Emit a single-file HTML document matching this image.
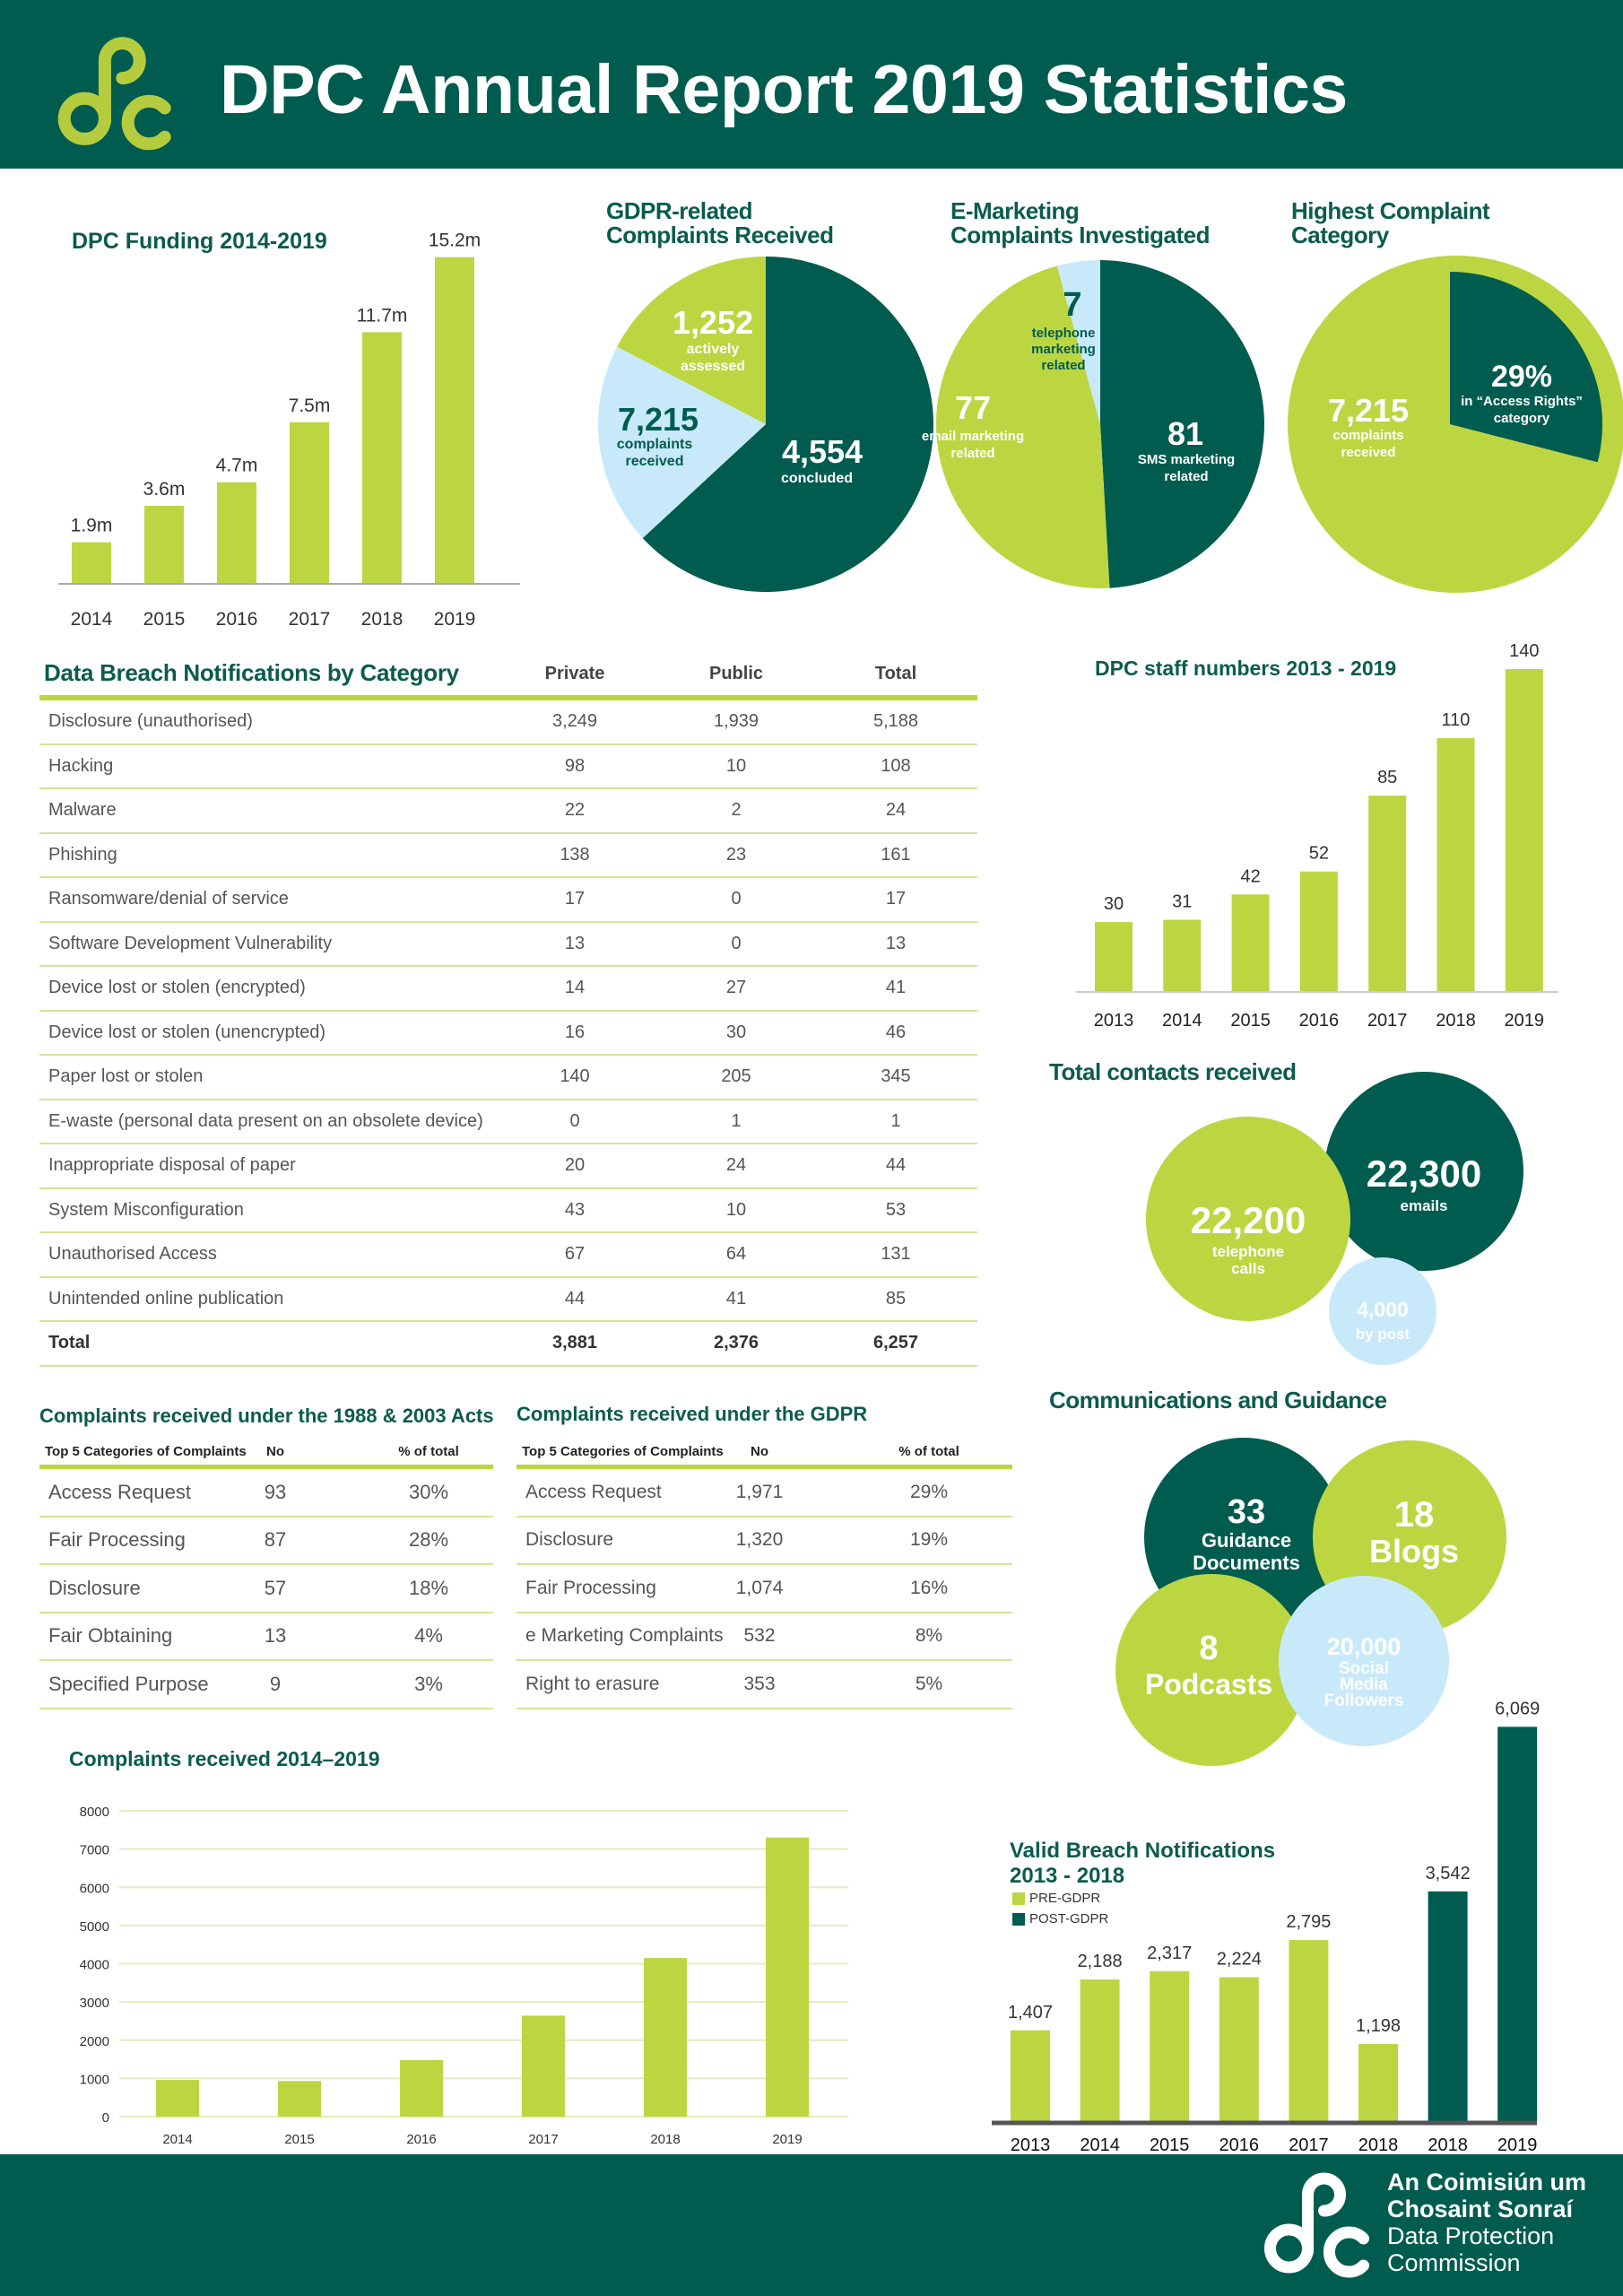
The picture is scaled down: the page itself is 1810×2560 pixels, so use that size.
<!DOCTYPE html>
<html><head><meta charset="utf-8">
<style>
*{margin:0;padding:0;box-sizing:border-box}
body{width:1810px;height:2560px;position:relative;background:#fff;font-family:"Liberation Sans",sans-serif;overflow:hidden;color:#444}
.abs{position:absolute}
.hdr{left:0;top:0;width:1810px;height:188px;background:#005c4f}
.ftr{left:0;top:2402px;width:1810px;height:158px;background:#005c4f}
.title{font-weight:bold;color:#0b5c4c;font-family:"Liberation Sans Narrow","Liberation Sans",sans-serif;white-space:nowrap}
.tbl .row{position:absolute;left:0;width:100%;border-bottom:2px solid #d4e49a}
.tbl .c{position:absolute;top:0;height:100%;display:flex;align-items:center;white-space:nowrap}
.br .row{height:49.5px;font-size:20px;color:#555}
.cp .row{height:53.5px;font-size:23px;color:#555;font-family:"Liberation Sans Narrow","Liberation Sans",sans-serif}
.ctr{justify-content:center;transform:translateX(-50%)}
</style></head><body>
<div class="abs hdr"></div>
<svg class="abs" style="left:52px;top:30px" width="160" height="140" viewBox="0 0 130 130">
<g fill="none" stroke="#b5cc3f" stroke-width="13" stroke-linecap="round">
<circle cx="30" cy="95" r="21"/><path d="M51,98 L51,35 A18,18 0 1 1 69,53"/><path d="M113,84 A22,22 0 1 0 113,114"/></g></svg>
<div class="abs" style="left:245px;top:56px;font-size:77px;font-weight:bold;color:#fff;white-space:nowrap;letter-spacing:-0.3px">DPC Annual Report 2019 Statistics</div>

<div class="abs title" style="left:80px;top:255px;font-size:25px">DPC Funding 2014-2019</div>
<div class="abs title" style="left:676px;top:222px;font-size:26px;line-height:27px;letter-spacing:-0.5px">GDPR-related<br>Complaints Received</div>
<div class="abs title" style="left:1060px;top:222px;font-size:26px;line-height:27px;letter-spacing:-0.5px">E-Marketing<br>Complaints Investigated</div>
<div class="abs title" style="left:1440px;top:222px;font-size:26px;line-height:27px;letter-spacing:-0.5px">Highest Complaint<br>Category</div>

<div class="abs title" style="left:49px;top:735px;font-size:26px;letter-spacing:-0.3px">Data Breach Notifications by Category</div>
<div class="abs" style="left:641px;top:740px;font-size:20px;font-weight:bold;color:#444;transform:translateX(-50%)">Private</div>
<div class="abs" style="left:821px;top:740px;font-size:20px;font-weight:bold;color:#444;transform:translateX(-50%)">Public</div>
<div class="abs" style="left:999px;top:740px;font-size:20px;font-weight:bold;color:#444;transform:translateX(-50%)">Total</div>
<div class="abs" style="left:44px;top:775px;width:1046px;height:6px;background:#bcd642"></div>
<div class="abs tbl br" id="brtbl" style="left:44px;top:781px;width:1046px;height:745px"></div>

<div class="abs title" style="left:1221px;top:732px;font-size:23px;font-family:'Liberation Sans',sans-serif">DPC staff numbers 2013 - 2019</div>
<div class="abs title" style="left:1170px;top:1180px;font-size:26px;font-family:'Liberation Sans',sans-serif;letter-spacing:-0.5px">Total contacts received</div>
<div class="abs title" style="left:1170px;top:1546px;font-size:26px;font-family:'Liberation Sans',sans-serif;letter-spacing:-0.5px">Communications and Guidance</div>

<div class="abs title" style="left:44px;top:1566px;font-size:22px">Complaints received under the 1988 &amp; 2003 Acts</div>
<div class="abs title" style="left:576px;top:1564px;font-size:22px">Complaints received under the GDPR</div>
<div class="abs tbl cp" id="cpl" style="left:44px;top:1600px;width:506px;height:310px"></div>
<div class="abs tbl cp" id="cpr" style="left:576px;top:1600px;width:553px;height:310px"></div>

<div class="abs title" style="left:77px;top:1948px;font-size:23px;font-family:'Liberation Sans',sans-serif">Complaints received 2014–2019</div>
<div class="abs title" style="left:1126px;top:2050px;font-size:24px;line-height:28px;font-family:'Liberation Sans',sans-serif">Valid Breach Notifications<br>2013 - 2018</div>
<div class="abs" style="left:1129px;top:2110px;width:14px;height:14px;background:#bcd642"></div>
<div class="abs" style="left:1148px;top:2108px;font-size:15px;color:#333">PRE-GDPR</div>
<div class="abs" style="left:1129px;top:2133px;width:14px;height:14px;background:#005c4f"></div>
<div class="abs" style="left:1148px;top:2131px;font-size:15px;color:#333">POST-GDPR</div>

<div class="abs ftr"></div>
<svg class="abs" style="left:1405px;top:2412px" width="135" height="130" viewBox="0 0 130 130">
<g fill="none" stroke="#fff" stroke-width="13" stroke-linecap="round">
<circle cx="30" cy="95" r="21"/><path d="M51,98 L51,35 A18,18 0 1 1 69,53"/><path d="M113,84 A22,22 0 1 0 113,114"/></g></svg>
<div class="abs" style="left:1547px;top:2418px;font-size:27px;line-height:30px;color:#fff;white-space:nowrap"><b>An Coimisiún um<br>Chosaint Sonraí</b><br>Data Protection<br>Commission</div>

<svg id="chart" class="abs" style="left:0;top:0" width="1810" height="2560"></svg>

<script>
const fundYears=['2014','2015','2016','2017','2018','2019'];
const fundVals=[1.9,3.6,4.7,7.5,11.7,15.2];
const fundLabels=['1.9m','3.6m','4.7m','7.5m','11.7m','15.2m'];
const staffYears=['2013','2014','2015','2016','2017','2018','2019'];
const staffVals=[30,31,42,52,85,110,140];
const complYears=['2014','2015','2016','2017','2018','2019'];
const complVals=[960,932,1479,2642,4150,7300];
const complTicks=[0,1000,2000,3000,4000,5000,6000,7000,8000];
const breachYears=['2013','2014','2015','2016','2017','2018','2018','2019'];
const breachVals=[1407,2188,2317,2224,2795,1198,3542,6069];
const breachPost=[false,false,false,false,false,false,true,true];
const gdprTotal=7215;
const gdprConcluded=4554;
const gdprAssessed=1252;
const emktVals=[81,77,7];
const highestPct=29;
const breachCats=['Disclosure (unauthorised)','Hacking','Malware','Phishing','Ransomware/denial of service','Software Development Vulnerability','Device lost or stolen (encrypted)','Device lost or stolen (unencrypted)','Paper lost or stolen','E-waste (personal data present on an obsolete device)','Inappropriate disposal of paper','System Misconfiguration','Unauthorised Access','Unintended online publication'];
const breachPrivate=[3249,98,22,138,17,13,14,16,140,0,20,43,67,44];
const breachPublic=[1939,10,2,23,0,0,27,30,205,1,24,10,64,41];
const actsCats=['Access Request','Fair Processing','Disclosure','Fair Obtaining','Specified Purpose'];
const actsNo=['93','87','57','13','9'];
const actsPct=['30%','28%','18%','4%','3%'];
const gdprCats=['Access Request','Disclosure','Fair Processing','e Marketing Complaints','Right to erasure'];
const gdprNo=['1,971','1,320','1,074','532','353'];
const gdprPct=['29%','19%','16%','8%','5%'];

const NS='http://www.w3.org/2000/svg';
const svg=document.getElementById('chart');
const LIME='#bcd642',DARK='#005c4f',BLUE='#c8e9f9';
function mk(tag,a){const e=document.createElementNS(NS,tag);for(const k in a)e.setAttribute(k,a[k]);svg.appendChild(e);return e;}
function txt(x,y,s,size,fill,weight,anchor){const t=mk('text',{x:x,y:y,'font-size':size,fill:fill,'font-weight':weight||'normal','text-anchor':anchor||'middle','font-family':'Liberation Sans, sans-serif'});t.textContent=s;return t;}
const fmt=n=>n.toLocaleString('en-US');

// Funding chart
const fX=i=>80+i*81, fY=v=>650-v*23.9;
let ax=mk('line',{x1:65,y1:651,x2:580,y2:651,stroke:'#aaa','stroke-width':2});

fundVals.forEach((v,i)=>{
  const r=mk('rect',{x:fX(i),y:fY(v),width:44,height:650-fY(v),fill:LIME});
  
  const l=txt(fX(i)+22,fY(v)-12,fundLabels[i],21,'#333');
  
  const y=txt(fX(i)+22,697,fundYears[i],21,'#333');
  
});

// Pie helper
function slice(cx,cy,r,a0,a1,fill){
  const p=a=>[cx+r*Math.sin(a*2*Math.PI),cy-r*Math.cos(a*2*Math.PI)];
  const s=p(a0),e=p(a1),large=(a1-a0)>0.5?1:0;
  return mk('path',{d:`M${cx},${cy} L${s[0]},${s[1]} A${r},${r} 0 ${large} 1 ${e[0]},${e[1]} Z`,fill:fill});
}
// GDPR pie
const gRest=gdprTotal-gdprConcluded-gdprAssessed;
const gVals=[gdprConcluded,gRest,gdprAssessed],gCols=[DARK,BLUE,LIME],gNames=['gdpr-slice-concluded','gdpr-slice-received','gdpr-slice-assessed'];
let acc=0;
gVals.forEach((v,i)=>{const a0=acc/gdprTotal;acc+=v;const s=slice(854,473,187,a0,acc/gdprTotal,gCols[i]);
  });
// E-marketing pie
const eTot=emktVals.reduce((a,b)=>a+b,0),eCols=[DARK,LIME,BLUE],eNames=['emkt-slice-sms','emkt-slice-email','emkt-slice-telephone'];
acc=0;
emktVals.forEach((v,i)=>{const a0=acc/eTot;acc+=v;const s=slice(1227,473,183,a0,acc/eTot,eCols[i]);
  });
// Highest pie
let hc=mk('circle',{cx:1624,cy:473,r:188,fill:LIME});

let hs=slice(1617,473,170,0,highestPct/100,DARK);


function lbl(x,y,s,size,fill,name){const t=txt(x,y,s,size,fill,'bold');return t;}
lbl(795,372,fmt(gdprAssessed),36,'#fff','gdpr-assessed-value');
lbl(795,394,'actively',16,'#fff','gdpr-assessed-text');lbl(795,413,'assessed',16,'#fff','gdpr-assessed-text2');
lbl(734,480,fmt(gdprTotal),36,DARK,'gdpr-total-value');
lbl(730,500,'complaints',16,DARK,'gdpr-total-text');lbl(730,519,'received',16,DARK,'gdpr-total-text2');
lbl(917,516,fmt(gdprConcluded),36,'#fff','gdpr-concluded-value');
lbl(911,538,'concluded',16,'#fff','gdpr-concluded-text');
lbl(1196,352,String(emktVals[2]),38,DARK,'emkt-tel-value');
lbl(1186,376,'telephone',15,DARK,'emkt-tel-text');lbl(1186,394,'marketing',15,DARK,'emkt-tel-text2');lbl(1186,412,'related',15,DARK,'emkt-tel-text3');
lbl(1085,467,String(emktVals[1]),36,'#fff','emkt-email-value');
lbl(1085,491,'email marketing',15,'#fff','emkt-email-text');lbl(1085,510,'related',15,'#fff','emkt-email-text2');
lbl(1322,496,String(emktVals[0]),36,'#fff','emkt-sms-value');
lbl(1323,517,'SMS marketing',15,'#fff','emkt-sms-text');lbl(1323,536,'related',15,'#fff','emkt-sms-text2');
lbl(1697,431,highestPct+'%',34,'#fff','highest-pct-value');
lbl(1697,452,'in \u201cAccess Rights\u201d',15,'#fff','highest-pct-text');lbl(1697,471,'category',15,'#fff','highest-pct-text2');
lbl(1526,470,fmt(gdprTotal),36,'#fff','highest-total-value');
lbl(1526,490,'complaints',15,'#fff','highest-total-text');lbl(1526,509,'received',15,'#fff','highest-total-text2');

// Staff chart
const sX=i=>1221+i*76.3, sY=v=>1105-v*2.564;
let sa=mk('line',{x1:1200,y1:1106,x2:1738,y2:1106,stroke:'#ccc','stroke-width':2});

staffVals.forEach((v,i)=>{
  const r=mk('rect',{x:sX(i),y:sY(v),width:42,height:1105-sY(v),fill:LIME});
  
  const l=txt(sX(i)+21,sY(v)-14,String(v),20,'#333');
  
  const y=txt(sX(i)+21,1144,staffYears[i],20,'#222');
  
});

// Circles
function bub(cx,cy,r,fill,name){const c=mk('circle',{cx:cx,cy:cy,r:r,fill:fill});}
bub(1588,1306,111,DARK,'emails-bubble');
bub(1392,1359,114,LIME,'telephone-bubble');
bub(1542,1462,60,BLUE,'post-bubble');
lbl(1588,1323,'22,300',42,'#fff','emails-value');lbl(1588,1350,'emails',17,'#fff','emails-text');
lbl(1392,1375,'22,200',42,'#fff','telephone-value');lbl(1392,1401,'telephone',17,'#fff','telephone-text');lbl(1392,1420,'calls',17,'#fff','telephone-text2');
lbl(1542,1468,'4,000',23,'#fff','post-value');lbl(1542,1493,'by post',17,'#fff','post-text');
bub(1387,1714,111,DARK,'guidance-bubble');
bub(1572,1714,108,LIME,'blogs-bubble');
bub(1351,1862,107,LIME,'podcasts-bubble');
bub(1521,1852,95,BLUE,'social-bubble');
lbl(1390,1698,'33',38,'#fff','guidance-value');lbl(1390,1725,'Guidance',22,'#fff','guidance-text');lbl(1390,1750,'Documents',22,'#fff','guidance-text2');
lbl(1577,1702,'18',40,'#fff','blogs-value');lbl(1577,1742,'Blogs',36,'#fff','blogs-text');
lbl(1348,1850,'8',38,'#fff','podcasts-value');lbl(1348,1889,'Podcasts',32,'#fff','podcasts-text');
lbl(1521,1845,'20,000',27,'#fff','social-value');lbl(1521,1866,'Social',19,'#fff','social-text');lbl(1521,1884,'Media',19,'#fff','social-text2');lbl(1521,1902,'Followers',19,'#fff','social-text3');

// Complaints 2014-2019
const cY=v=>2360-v*341/8000, cX=i=>130+136*(i+0.5);
complTicks.forEach(t=>{
  const g=mk('line',{x1:133,y1:cY(t),x2:946,y2:cY(t),stroke:'#e3ecc0','stroke-width':2});
  
  const l=txt(122,cY(t)+6,String(t),15,'#333','normal','end');
  
});
complVals.forEach((v,i)=>{
  const r=mk('rect',{x:cX(i)-24,y:cY(v),width:48,height:2360-cY(v),fill:LIME});
  
  const y=txt(cX(i),2390,complYears[i],15,'#333');
  
});

// Valid breach notifications
const bX=i=>1149+i*77.6, bY=v=>2366-v*0.0726;
breachVals.forEach((v,i)=>{
  const r=mk('rect',{x:bX(i)-22,y:bY(v),width:44,height:2366-bY(v),fill:breachPost[i]?DARK:LIME});
  
  const l=txt(bX(i),bY(v)-14,fmt(v),20,'#333');
  
  const y=txt(bX(i),2398,breachYears[i],20,'#111');
  
});
let ba=mk('line',{x1:1106,y1:2367,x2:1714,y2:2367,stroke:'#555','stroke-width':5});


// Tables
function cell(row,left,s,center){const d=document.createElement('div');d.className='c'+(center?' ctr':'');d.style.left=left+'px';d.textContent=s;row.appendChild(d);return d;}
const bt=document.getElementById('brtbl');
let pT=0,uT=0;
breachCats.forEach((c,i)=>{
  const row=document.createElement('div');row.className='row';row.style.top=(i*49.5)+'px';
  
  cell(row,10,c);cell(row,597,fmt(breachPrivate[i]),1);cell(row,777,fmt(breachPublic[i]),1);cell(row,955,fmt(breachPrivate[i]+breachPublic[i]),1);
  pT+=breachPrivate[i];uT+=breachPublic[i];bt.appendChild(row);
});
{const row=document.createElement('div');row.className='row';row.style.top=(14*49.5)+'px';row.style.fontWeight='bold';row.style.color='#333';
 
 cell(row,10,'Total');cell(row,597,fmt(pT),1);cell(row,777,fmt(uT),1);cell(row,955,fmt(pT+uT),1);bt.appendChild(row);}

function ctable(id,cats,nos,pcts,noX,pX,fs){
  const t=document.getElementById(id);
  const h=document.createElement('div');h.className='row';h.style.top='0';h.style.height='36px';h.style.border='none';h.style.fontSize='15px';h.style.fontWeight='bold';h.style.color='#222';
  
  cell(h,6,'Top 5 Categories of Complaints');cell(h,noX,'No',1);cell(h,pX,'% of total',1);t.appendChild(h);
  const rule=document.createElement('div');rule.style.cssText='position:absolute;left:0;top:33px;width:100%;height:5px;background:#bcd642';
  t.appendChild(rule);
  cats.forEach((c,i)=>{
    const row=document.createElement('div');row.className='row';row.style.top=(38+i*53.5)+'px';row.style.fontSize=fs+'px';
    
    cell(row,10,c);cell(row,noX,nos[i],1);cell(row,pX,pcts[i],1);t.appendChild(row);
  });
}
ctable('cpl',actsCats,actsNo,actsPct,263,434,22);
ctable('cpr',gdprCats,gdprNo,gdprPct,271,460,21);
</script>
</body></html>
